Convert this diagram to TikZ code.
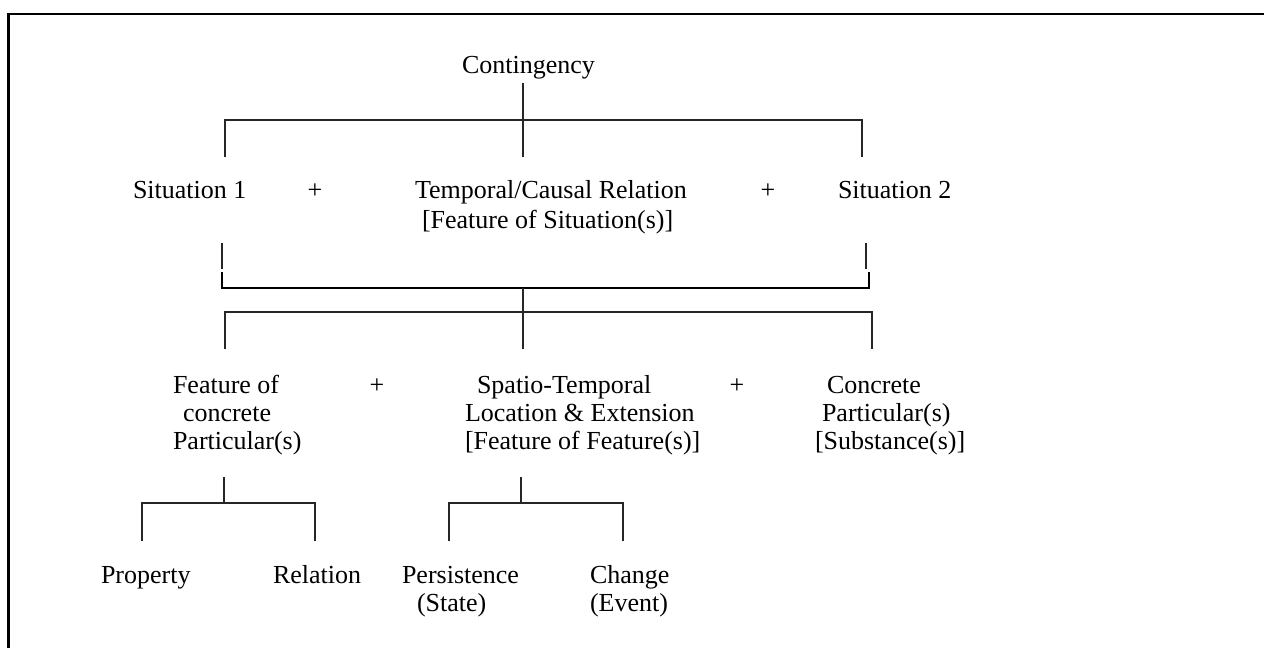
\documentclass[tikz,border=0pt]{standalone}
\usepackage{fontspec}
\setmainfont{Liberation Serif}
\begin{document}
\begin{tikzpicture}[x=1pt,y=-1pt,
  lbl/.style={inner sep=0pt, outer sep=0pt, anchor=base west, font=\fontsize{26}{31}\selectfont},
  plus/.style={inner sep=0pt, outer sep=0pt, anchor=base, font=\fontsize{26}{31}\selectfont},
  conn/.style={line width=1.1pt, black!85},
  heavy/.style={line width=2pt, black},
  frameline/.style={line width=2.7pt, black, line join=miter}]
\useasboundingbox (0,0) rectangle (1264,648);
% frame (only top and left edges visible)
\coordinate (fb) at (8.7,648);
\coordinate (fc) at (8.7,14);
\coordinate (fr) at (1264,14);
\draw[frameline] (fb) -- (fc) -- (fr);

% ---- texts ----
\node[lbl] (cont) at (462,73) {Contingency};

\node[lbl] (sit1) at (133,198) {Situation 1};
\node[plus] (p1) at (315,198) {+};
\node[lbl] (tc1) at (415,198) {Temporal/Causal Relation};
\node[lbl] (tc2) at (422,228) {[Feature of Situation(s)]};
\node[plus] (p2) at (768,198) {+};
\node[lbl] (sit2) at (838,198) {Situation 2};

\node[lbl] (fc1) at (173,393) {Feature of};
\node[lbl] (fc2) at (183,421) {concrete};
\node[lbl] (fc3) at (173,449) {Particular(s)};
\node[plus] (p3) at (377,393) {+};
\node[lbl] (st1) at (477,393) {Spatio-Temporal};
\node[lbl] (st2) at (465,421) {Location \& Extension};
\node[lbl] (st3) at (465,449) {[Feature of Feature(s)]};
\node[plus] (p4) at (737,393) {+};
\node[lbl] (cp1) at (827,393) {Concrete};
\node[lbl] (cp2) at (822,421) {Particular(s)};
\node[lbl] (cp3) at (815,449) {[Substance(s)]};

\node[lbl] (prop) at (101,583) {Property};
\node[lbl] (rel) at (273,583) {Relation};
\node[lbl] (pers1) at (402,583) {Persistence};
\node[lbl] (pers2) at (417,611) {(State)};
\node[lbl] (chg1) at (590,583) {Change};
\node[lbl] (chg2) at (590,611) {(Event)};

% ---- level 1 connector ----
\coordinate (a0) at (523,83);
\coordinate (a1) at (523,120);
\coordinate (al) at (225,120);
\coordinate (ar) at (862,120);
\coordinate (al2) at (225,157);
\coordinate (ac2) at (523,157);
\coordinate (ar2) at (862,157);
\draw[conn] (a0) -- (a1);
\draw[conn] (al2) -- (al) -- (ar) -- (ar2);
\draw[conn] (a1) -- (ac2);

% ---- joining bracket under situations ----
\coordinate (b1) at (222,243);
\coordinate (b2) at (222,269);
\coordinate (b3) at (866,243);
\coordinate (b4) at (866,269);
\draw[conn] (b1) -- (b2);
\draw[conn] (b3) -- (b4);
\coordinate (c1) at (222,272);
\coordinate (c2) at (222,288);
\coordinate (c3) at (869,288);
\coordinate (c4) at (869,272);
\draw[heavy] (c1) -- (c2) -- (c3) -- (c4);

% ---- level 2 connector ----
\coordinate (d0) at (523,288);
\coordinate (d1) at (523,312);
\coordinate (dl) at (225,312);
\coordinate (dr) at (872,312);
\coordinate (dl2) at (225,349);
\coordinate (dc2) at (523,349);
\coordinate (dr2) at (872,349);
\draw[conn] (d0) -- (dc2);
\draw[conn] (dl2) -- (dl) -- (dr) -- (dr2);

% ---- level 3 left ----
\coordinate (e0) at (224,477);
\coordinate (e1) at (224,503);
\coordinate (el) at (142,503);
\coordinate (er) at (315,503);
\coordinate (el2) at (142,541);
\coordinate (er2) at (315,541);
\draw[conn] (e0) -- (e1);
\draw[conn] (el2) -- (el) -- (er) -- (er2);

% ---- level 3 middle ----
\coordinate (g0) at (521,477);
\coordinate (g1) at (521,503);
\coordinate (gl) at (449,503);
\coordinate (gr) at (623,503);
\coordinate (gl2) at (449,541);
\coordinate (gr2) at (623,541);
\draw[conn] (g0) -- (g1);
\draw[conn] (gl2) -- (gl) -- (gr) -- (gr2);
\end{tikzpicture}
\end{document}
